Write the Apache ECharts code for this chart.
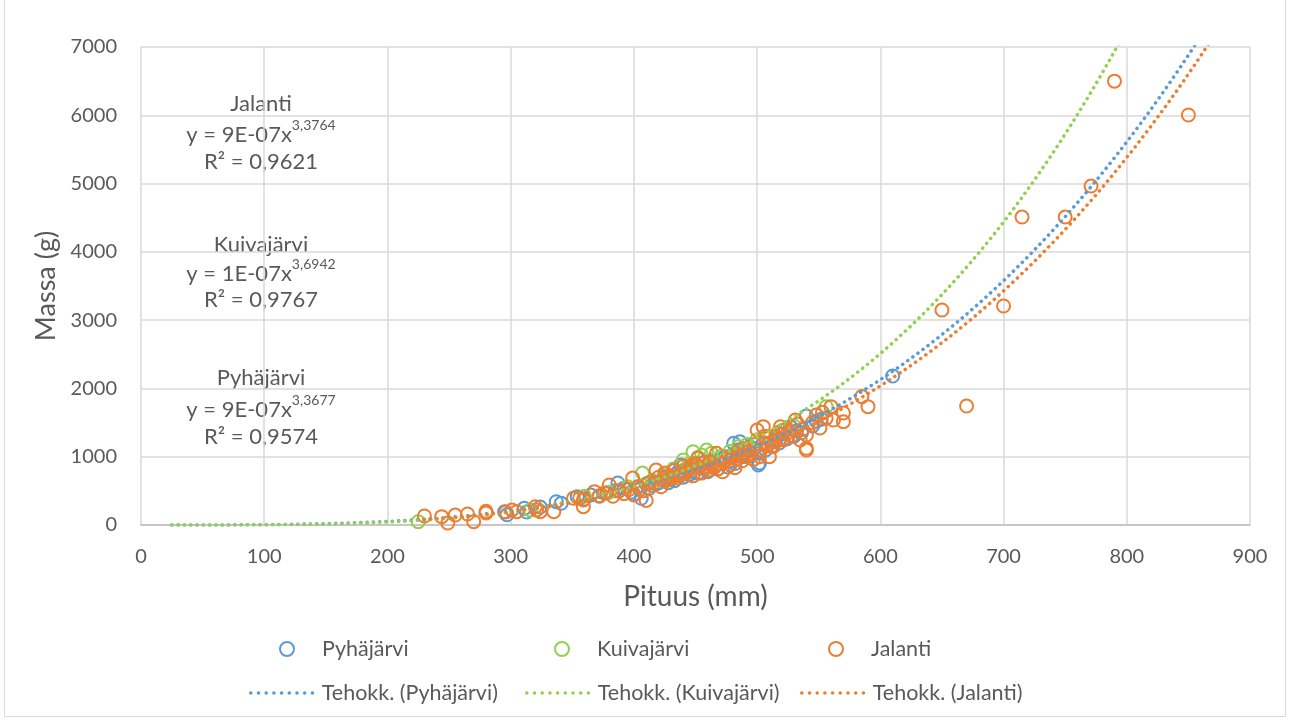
<!DOCTYPE html>
<html><head><meta charset="utf-8">
<script src="https://cdn.jsdelivr.net/npm/echarts@6/dist/echarts.min.js"></script>
<style>html,body{margin:0;padding:0;background:#fff}#c{width:1290px;height:720px}</style>
</head><body><div id="c"></div>
<script>
// ---------- data ----------
const seriesNames = ['Pyhäjärvi', 'Kuivajärvi', 'Jalanti'];
const trendNames = ['Tehokk. (Pyhäjärvi)', 'Tehokk. (Kuivajärvi)', 'Tehokk. (Jalanti)'];
const xTicks = [0, 100, 200, 300, 400, 500, 600, 700, 800, 900];
const yTicks = [0, 1000, 2000, 3000, 4000, 5000, 6000, 7000];

// [pituus mm, massa g]
const pyhajarvi = [[295,195],[297,150],[311,244],[313,190],[324,263],[337,341],[341,318],[354,415],[360,380],[365,440],
  [372,420],[378,470],[385,500],[387,615],[392,540],[398,480],[400,450],[403,560],[405,520],[406,391],[410,600],
  [412,530],[415,640],[418,600],[420,620],[425,700],[428,620],[430,690],[433,650],[435,760],[438,880],[440,700],
  [442,820],[445,740],[446,780],[450,860],[452,760],[455,900],[458,830],[460,780],[462,940],[466,870],[468,820],
  [470,960],[474,1000],[476,850],[478,940],[481,1196],[482,900],[484,1100],[486,1220],[488,1000],[490,1060],
  [493,1020],[494,1150],[498,1120],[500,1050],[501,879],[502,908],[505,1200],[507,1100],[510,1280],[512,1150],
  [515,1250],[518,1200],[520,1330],[524,1260],[527,1440],[530,1300],[532,1380],[536,1350],[540,1596],[545,1450],
  [548,1520],[552,1550],[610,2182]];
const kuivajarvi = [[225,48],[316,220],[360,420],[380,480],[395,560],[407,761],[415,650],[425,730],[432,820],
  [440,952],[445,900],[448,1073],[452,990],[455,1020],[459,1098],[463,1050],[470,1000],[478,1080],[485,1150],
  [492,1180],[500,1250],[510,1300],[520,1380],[530,1450],[556,1733]];
const jalanti = [[230,132],[244,122],[249,29],[255,146],[265,161],[270,48],[280,175],[280,200],[296,190],[301,220],
  [305,195],[320,268],[321,220],[324,195],[335,195],[351,391],[356,395],[359,366],[359,268],[368,488],[372,430],
  [376,470],[380,586],[383,420],[388,500],[392,460],[396,520],[399,688],[400,440],[404,560],[408,500],[410,360],
  [412,620],[415,580],[418,805],[420,700],[422,560],[425,760],[425,640],[428,660],[430,720],[432,700],[433,800],
  [436,690],[438,740],[440,860],[442,760],[444,800],[445,820],[447,880],[448,720],[450,900],[452,980],[453,830],
  [455,760],[457,920],[458,860],[460,800],[462,920],[463,880],[465,840],[467,1050],[468,820],[470,900],[472,780],
  [473,920],[475,960],[477,1000],[478,880],[480,1000],[482,840],[483,960],[485,1080],[487,1020],[488,940],
  [490,1120],[492,1000],[493,1080],[495,1050],[497,960],[498,1180],[500,1391],[502,1000],[503,1100],[505,1440],
  [506,1300],[507,1200],[509,1180],[510,1000],[512,1150],[513,1147],[514,1220],[515,1300],[517,1350],[518,1250],
  [519,1440],[521,1245],[523,1400],[525,1350],[528,1300],[531,1537],[533,1480],[535,1245],[537,1400],[540,1098],
  [540,1318],[540,1123],[545,1500],[548,1610],[551,1420],[553,1650],[556,1562],[560,1733],[562,1537],[570,1640],
  [570,1513],[585,1880],[590,1733],[650,3148],[670,1742],[700,3207],[715,4510],[750,4510],[771,4964],[790,6500],
  [850,6004]];

// power trendlines y = a * x^b  (as fitted in the source chart)
const trendCoef = [9.38e-7, 1.37e-7, 8.49e-7];
const trendExp = [3.3677, 3.6942, 3.3764];
const trendStart = [25, 25, 230];
const trendEnd = 900;

const eqLabels = ['y = 9E-07x', 'y = 1E-07x', 'y = 9E-07x'];
const eqExps = ['3,3677', '3,6942', '3,3764'];
const r2Labels = ['R² = 0,9574', 'R² = 0,9767', 'R² = 0,9621'];

// ---------- chart ----------
const colors = ['#5B9BD5', '#92D050', '#ED7D31'];
const FONT = 'Lato';
const TXT = '#595959';
const DOT = { width: 3.5, type: [0.1, 6.2], cap: 'round' };
const LDOT = { width: 3.5, type: [0.1, 7.6], cap: 'round' };

function trendData(i) {
  const out = [];
  for (let x = trendStart[i]; x <= trendEnd; x += 4) out.push([x, trendCoef[i] * Math.pow(x, trendExp[i])]);
  return out;
}

const scatterSeries = [pyhajarvi, kuivajarvi, jalanti].map((d, i) => ({
  name: seriesNames[i], type: 'scatter', data: d, symbol: 'circle', symbolSize: 13,
  itemStyle: { color: 'rgba(255,255,255,0)', borderColor: colors[i], borderWidth: 2, opacity: 1 },
  emphasis: { disabled: true }, z: 2
}));
const trendSeries = [0, 1, 2].map(i => ({
  name: trendNames[i], type: 'line', data: trendData(i), showSymbol: false, symbol: 'none', smooth: false,
  clip: true,
  lineStyle: Object.assign({ color: colors[i] }, DOT),
  itemStyle: { color: colors[i] },
  emphasis: { disabled: true }, z: 3
}));

// legends as separate components for exact placement (Excel-style columns)
const row1X = [274, 549, 823];
const row2X = [244, 520, 795];
const legends = [];
seriesNames.forEach((n, i) => legends.push({
  data: [n], left: row1X[i], top: 633, itemWidth: 14, itemHeight: 14, icon: 'circle',
  itemStyle: { color: '#fff', borderColor: colors[i], borderWidth: 2 },
  textStyle: { fontFamily: FONT, fontSize: 21.5, color: TXT, padding: [0, 0, 0, 23] }
}));
trendNames.forEach((n, i) => legends.push({
  data: [n], left: row2X[i], top: 677, itemWidth: 68, itemHeight: 14,
  itemStyle: { opacity: 0 },
  lineStyle: Object.assign({ color: colors[i] }, LDOT),
  textStyle: { fontFamily: FONT, fontSize: 21.5, color: TXT, padding: [0, 0, 0, -2] }
}));

const annCenterX = 261;
const annTop = [[378, 406, 437], [245, 270, 300], [104, 131, 162]]; // Pyhäjärvi, Kuivajärvi, Jalanti
const graphics = [];
[0, 1, 2].forEach(i => {
  const [t1, t2, t3] = annTop[i];
  graphics.push({ type: 'text', x: annCenterX, y: t1, style: { text: seriesNames[i], fontFamily: FONT, fontSize: 22, fill: TXT, textAlign: 'center', textVerticalAlign: 'middle' } });
  graphics.push({ type: 'text', x: annCenterX, y: t2, style: {
    text: '{a|' + eqLabels[i] + '}{s|' + eqExps[i] + '}', textAlign: 'center', textVerticalAlign: 'middle',
    rich: { a: { fontFamily: FONT, fontSize: 22, fill: TXT, color: TXT, lineHeight: 30, verticalAlign: 'bottom' },
            s: { fontFamily: FONT, fontSize: 14, fill: TXT, color: TXT, lineHeight: 30, verticalAlign: 'top', padding: [2, 0, 0, 0] } } } });
  graphics.push({ type: 'text', x: annCenterX, y: t3, style: { text: r2Labels[i], fontFamily: FONT, fontSize: 22, fill: TXT, textAlign: 'center', textVerticalAlign: 'middle' } });
});
graphics.push({ type: 'rect', shape: { x: 4.5, y: -2, width: 1281, height: 718.5 }, style: { fill: 'none', stroke: '#D9D9D9', lineWidth: 1 }, silent: true, z: -10 });

const chart = echarts.init(document.getElementById('c'), null, { renderer: 'canvas' });
chart.setOption({
  animation: false,
  backgroundColor: '#fff',
  color: colors,
  grid: { left: 141, right: 40, top: 47, bottom: 195, containLabel: false },
  xAxis: {
    type: 'value', min: xTicks[0], max: xTicks[xTicks.length - 1], interval: 100,
    name: 'Pituus (mm)', nameLocation: 'middle', nameGap: 58,
    nameTextStyle: { fontFamily: FONT, fontSize: 28, color: TXT },
    axisLine: { show: true, lineStyle: { color: '#BFBFBF', width: 1.5 } },
    axisTick: { show: false },
    axisLabel: { fontFamily: FONT, fontSize: 20, color: TXT, margin: 22, formatter: v => String(v) },
    splitLine: { show: true, lineStyle: { color: '#D9D9D9', width: 1.5 } }
  },
  yAxis: {
    type: 'value', min: yTicks[0], max: yTicks[yTicks.length - 1], interval: 1000,
    name: 'Massa (g)', nameLocation: 'middle', nameGap: 79,
    nameTextStyle: { fontFamily: FONT, fontSize: 27, color: TXT },
    axisLine: { show: false }, axisTick: { show: false },
    axisLabel: { fontFamily: FONT, fontSize: 20, color: TXT, margin: 24, formatter: v => String(v) },
    splitLine: { show: true, lineStyle: { color: '#D9D9D9', width: 1.5 } }
  },
  legend: legends,
  graphic: graphics,
  series: scatterSeries.concat(trendSeries)
});
</script></body></html>
